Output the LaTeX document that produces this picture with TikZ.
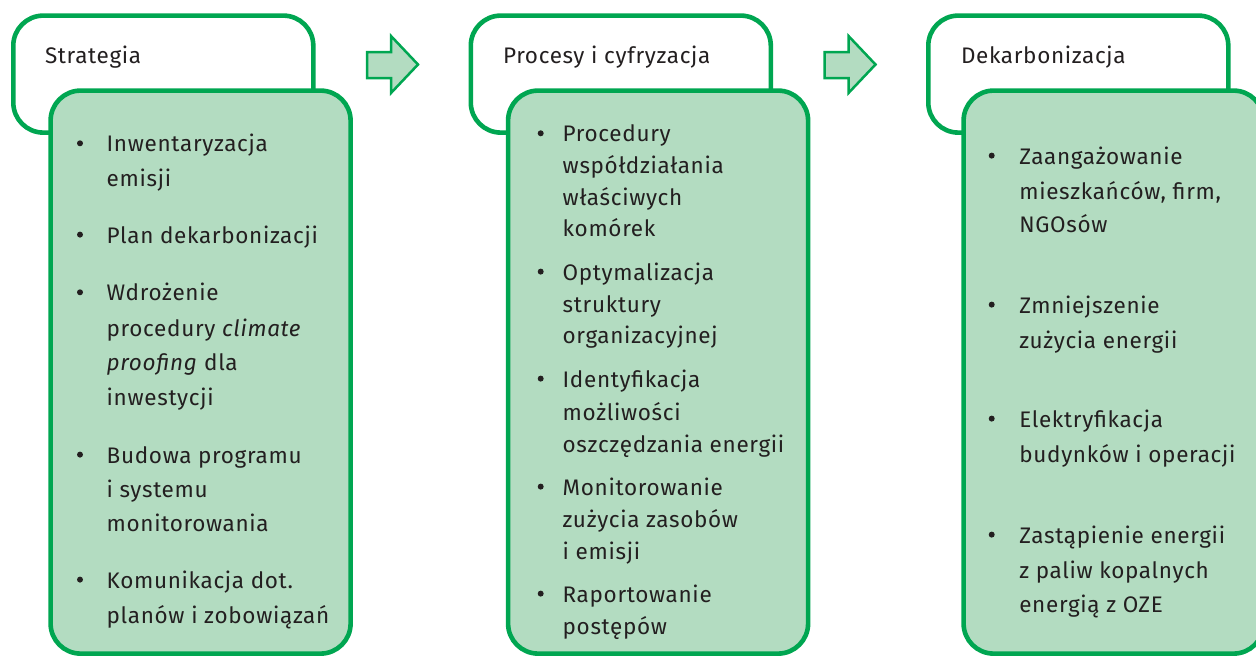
\documentclass[tikz,border=0pt]{standalone}
\usepackage{fontspec}
\setmainfont{Fira Sans}[LetterSpace=3]
\definecolor{gline}{HTML}{00A651}
\definecolor{gfill}{HTML}{B3DCC1}
\definecolor{ink}{HTML}{231F20}
\newcommand\tline[4]{\node[txt] (#1) at (#2,#3) {#4};}
\newcommand\bul[3]{\node[bulletdot] (#1) at (#2,#3) {};}
\begin{document}
\begin{tikzpicture}[x=1pt,y=-1pt,
  hdbox/.style={draw=gline, line width=4.6pt, fill=white, rounded corners=30pt, anchor=north west, minimum width=300pt, minimum height=117pt, inner sep=0pt, outer sep=0pt},
  bodybox/.style={draw=gline, line width=4.6pt, fill=gfill, rounded corners=30pt, anchor=north west, minimum width=300pt, minimum height=563pt, inner sep=0pt, outer sep=0pt},
  txt/.style={anchor=base west, inner sep=0pt, outer sep=0pt, text=ink, font=\fontsize{22.5}{27}\selectfont},
  bulletdot/.style={circle, fill=ink, inner sep=0pt, minimum size=6pt},
  bigarrow/.style={draw=gline, line width=2.5pt, fill=gfill, line join=miter}
]
\useasboundingbox (0,0) rectangle (1256,657);
% column 1
\node[hdbox] (h1) at (13.3,15.6) {};
\node[bodybox] (g1) at (50.6,90.6) {};
\tline{t1}{45}{63.3}{Strategia}
% column 2
\node[hdbox] (h2) at (470.8,15.6) {};
\node[bodybox] (g2) at (508.1,90.6) {};
\tline{t2}{503}{63.3}{Procesy i cyfryzacja}
% column 3
\node[hdbox] (h3) at (928.3,15.6) {};
\node[bodybox] (g3) at (963.6,90.6) {};
\tline{t3}{961}{63.3}{Dekarbonizacja}
% arrows
\draw[bigarrow] (367,52) -- (391,52) -- (391,36) -- (418,64.5) -- (391,93) -- (391,78) -- (367,78) -- cycle;
\draw[bigarrow] (824.5,52) -- (848.5,52) -- (848.5,36) -- (875.5,64.5) -- (848.5,93) -- (848.5,78) -- (824.5,78) -- cycle;
% column 1 items
\bul{b11}{80}{143.3}
\tline{a11}{106.7}{151.7}{Inwentaryzacja}
\tline{a12}{106.7}{186.7}{emisji}
\bul{b12}{80}{234.6}
\tline{a13}{106.7}{243}{Plan dekarbonizacji}
\bul{b13}{80}{292.3}
\tline{a14}{106.7}{300.7}{Wdrożenie}
\tline{a15}{106.7}{336}{procedury \textit{climate}}
\tline{a16}{106.7}{370.7}{\textit{proofing} dla}
\tline{a17}{106.7}{405}{inwestycji}
\bul{b14}{80}{454.6}
\tline{a18}{106.7}{463}{Budowa programu}
\tline{a19}{106.7}{497}{i systemu}
\tline{a110}{106.7}{531}{monitorowania}
\bul{b15}{80}{579.6}
\tline{a111}{106.7}{588}{Komunikacja dot.}
\tline{a112}{106.7}{623}{planów i zobowiązań}
% column 2 items
\bul{b21}{540.7}{133.3}
\tline{a21}{562.7}{141.7}{Procedury}
\tline{a22}{562.7}{173}{współdziałania}
\tline{a23}{562.7}{205}{właściwych}
\tline{a24}{562.7}{236.7}{komórek}
\bul{b22}{540.7}{271.6}
\tline{a25}{562.7}{280}{Optymalizacja}
\tline{a26}{562.7}{312}{struktury}
\tline{a27}{562.7}{343}{organizacyjnej}
\bul{b23}{540.7}{378.6}
\tline{a28}{562.7}{387}{Identyfikacja}
\tline{a29}{562.7}{420}{możliwości}
\tline{a210}{562.7}{452}{oszczędzania energii}
\bul{b24}{540.7}{486.6}
\tline{a211}{562.7}{495}{Monitorowanie}
\tline{a212}{562.7}{527}{zużycia zasobów}
\tline{a213}{562.7}{559}{i emisji}
\bul{b25}{540.7}{593.6}
\tline{a214}{562.7}{602}{Raportowanie}
\tline{a215}{562.7}{634}{postępów}
% column 3 items
\bul{b31}{991.7}{155.6}
\tline{a31}{1019.3}{164}{Zaangażowanie}
\tline{a32}{1019.3}{199}{mieszkańców, firm,}
\tline{a33}{1019.3}{232.7}{NGOsów}
\bul{b32}{991.7}{304.6}
\tline{a34}{1019.3}{313}{Zmniejszenie}
\tline{a35}{1019.3}{348}{zużycia energii}
\bul{b33}{991.7}{418.6}
\tline{a36}{1019.3}{427}{Elektryfikacja}
\tline{a37}{1019.3}{462}{budynków i operacji}
\bul{b34}{991.7}{534.6}
\tline{a38}{1019.3}{543}{Zastąpienie energii}
\tline{a39}{1019.3}{578}{z paliw kopalnych}
\tline{a310}{1019.3}{612}{energią z OZE}
\end{tikzpicture}
\end{document}
